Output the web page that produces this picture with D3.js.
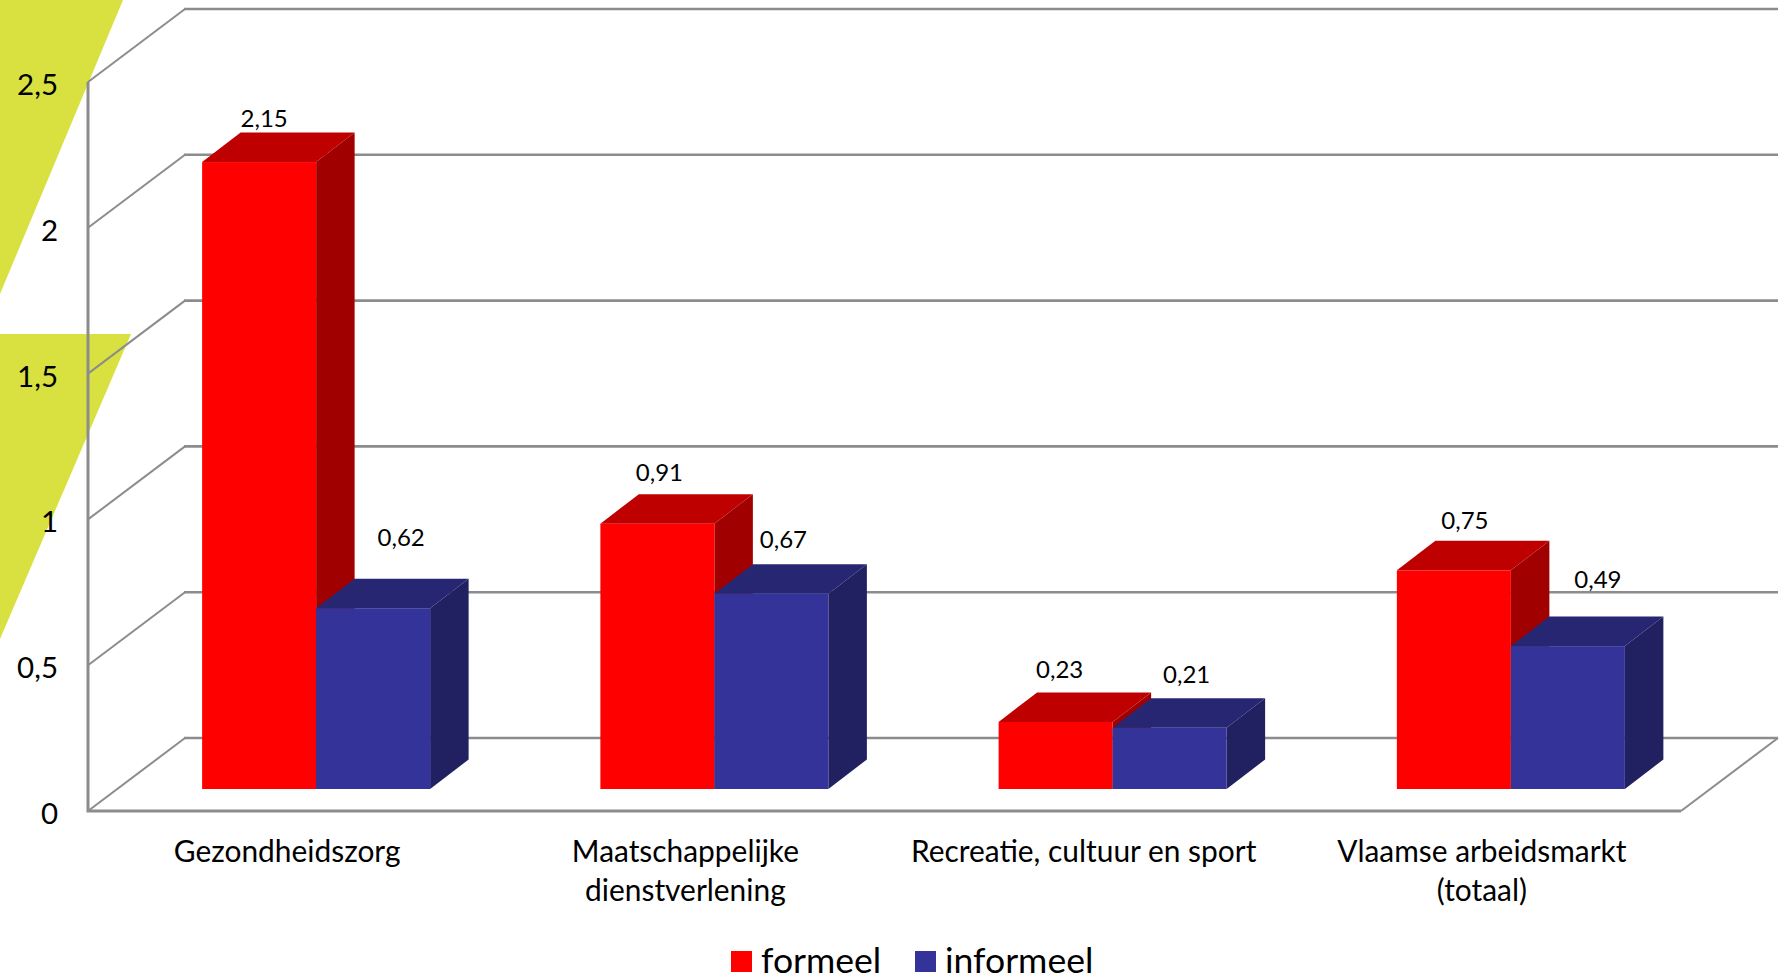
<!DOCTYPE html>
<html><head><meta charset="utf-8">
<script src="https://cdn.jsdelivr.net/npm/d3@7"></script>
<style>html,body{margin:0;padding:0;background:#fff;overflow:hidden}svg{display:block}text{font-family:Lato,"Open Sans",sans-serif;fill:#000}</style>
</head><body><svg id="c" width="1787" height="980"></svg>
<script>
const categories = ["Gezondheidszorg","Maatschappelijke dienstverlening","Recreatie, cultuur en sport","Vlaamse arbeidsmarkt (totaal)"];
const categoryLines = [["Gezondheidszorg"],["Maatschappelijke","dienstverlening"],["Recreatie, cultuur en sport"],["Vlaamse arbeidsmarkt","(totaal)"]];
const seriesNames = ["formeel","informeel"];
const formeel = [2.15,0.91,0.23,0.75];
const informeel = [0.62,0.67,0.21,0.49];
const yTicks = [0,0.5,1,1.5,2,2.5];
const faceColors = {formeel:["#ff0000","#bf0000","#a10000"],informeel:["#333399","#262673","#212161"]};
// manual label placement relative to each bar's front-face centre / top
const labelDx = {formeel:[5,2,4,11],informeel:[28,12,17,30]};
const labelDy = {formeel:[-35.5,-42.5,-43.5,-41.5],informeel:[-62.5,-45.5,-44.5,-58.5]};

const svg = d3.select("#c");
const comma = v => String(v).replace(".",",");
const grey = "#8c8c8c";
const axisLeftX=88, axisBottomY=811, axisTopY=82, floorRight=1681, depth={x:97,y:-73}, barDepth={x:38.5,y:-29.5}, barOffset={x:29,y:-22}, barW=114;
const y = d3.scaleLinear().domain([0,2.5]).range([axisBottomY,axisTopY]);
const xAxisBand = d3.scaleBand().domain(categories).range([axisLeftX,floorRight]);
const xBars = d3.scaleBand().domain(categories).range([axisLeftX+barOffset.x,floorRight+barOffset.x]);

// decorative background shapes
svg.append("path").attr("d","M0,0L123,0L0,294Z").attr("fill","#d8e13f");
svg.append("path").attr("d","M0,334L131,334L0,639Z").attr("fill","#d8e13f");

// 3D grid
const grid = svg.append("g").attr("fill","none").attr("stroke",grey).attr("stroke-width",2);
yTicks.forEach(t=>{
  const p=y(t);
  grid.append("path").attr("d",`M${axisLeftX},${p}L${axisLeftX+depth.x},${p+depth.y}`);
  grid.append("path").attr("stroke-width",2.6).attr("d",`M${axisLeftX+depth.x-1},${p+depth.y}L${floorRight+depth.x},${p+depth.y}`);
});
grid.append("path").attr("d",`M${floorRight},${axisBottomY}L${floorRight+depth.x},${axisBottomY+depth.y}`);

// front axis lines
svg.append("path").attr("fill","none").attr("stroke",grey).attr("stroke-width",3)
  .attr("d",`M${axisLeftX},${axisTopY}L${axisLeftX},${axisBottomY}L${floorRight},${axisBottomY}`);

// y axis
const yAxis = svg.append("g").attr("transform","translate(58,3)")
  .call(d3.axisLeft(y).tickValues(yTicks).tickSize(0).tickPadding(0).tickFormat(comma));
yAxis.select(".domain").remove();
yAxis.attr("font-family",null).attr("font-size",null);
yAxis.selectAll("text").attr("font-size",29.5);

// x axis
const xAxis = svg.append("g").attr("transform",`translate(0,${axisBottomY})`)
  .call(d3.axisBottom(xAxisBand).tickSize(0).tickFormat(""));
xAxis.attr("font-family",null).attr("font-size",null);
xAxis.select(".domain").remove();
xAxis.selectAll(".tick text").each(function(d,i){
  const t=d3.select(this).attr("font-size",29.9).attr("y",null).attr("dy",null);
  categoryLines[i].forEach((l,k)=>t.append("tspan").attr("x",0).attr("y",51+k*39).text(l));
});

// bars
const series = [formeel,informeel];
categories.forEach((c,i)=>{
  const cx = xBars(c)+xBars.bandwidth()/2;
  seriesNames.forEach((name,s)=>{
    const v=series[s][i], x0=cx-barW+s*barW, x1=x0+barW, yT=y(v)+barOffset.y, yB=y(0)+barOffset.y;
    const [front,topC,side]=faceColors[name];
    const g=svg.append("g");
    g.append("path").attr("fill",side).attr("d",`M${x1},${yT}L${x1+barDepth.x},${yT+barDepth.y}L${x1+barDepth.x},${yB+barDepth.y}L${x1},${yB}Z`);
    g.append("path").attr("fill",topC).attr("d",`M${x0},${yT}L${x0+barDepth.x},${yT+barDepth.y}L${x1+barDepth.x},${yT+barDepth.y}L${x1},${yT}Z`);
    g.append("rect").attr("fill",front).attr("x",x0).attr("y",yT).attr("width",barW).attr("height",yB-yT);
  });
});
// labels on top
categories.forEach((c,i)=>{
  const cx = xBars(c)+xBars.bandwidth()/2;
  seriesNames.forEach((name,s)=>{
    const v=series[s][i], x0=cx-barW+s*barW;
    svg.append("text").attr("font-size",24).attr("text-anchor","middle")
      .attr("x",x0+barW/2+labelDx[name][i]).attr("y",y(v)+barOffset.y+labelDy[name][i]).text(comma(v));
  });
});

// legend
const legendX=[731,915];
seriesNames.forEach((name,s)=>{
  svg.append("rect").attr("x",legendX[s]).attr("y",951).attr("width",21).attr("height",21).attr("fill",faceColors[name][0]);
  svg.append("text").attr("x",legendX[s]+30).attr("y",972.5).attr("font-size",35.6).text(name);
});
</script></body></html>
